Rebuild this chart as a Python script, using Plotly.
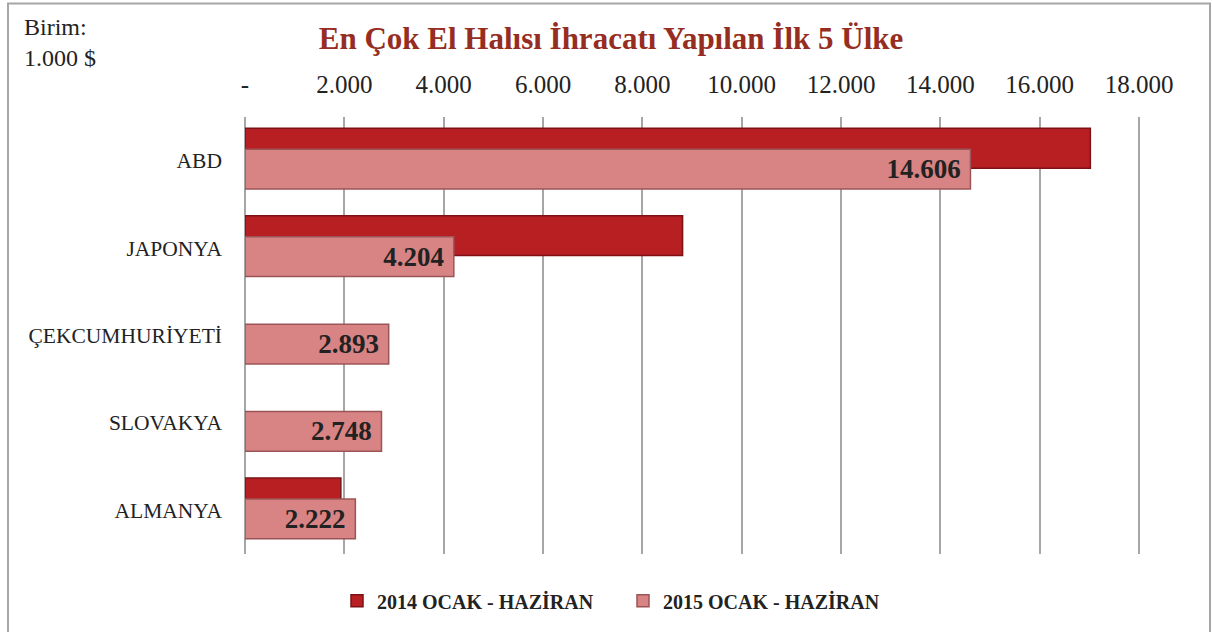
import plotly.graph_objects as go

countries = ["ABD", "JAPONYA", "ÇEKCUMHURİYETİ", "SLOVAKYA", "ALMANYA"]
values_2014 = [17020, 8810, None, None, 1930]
values_2015 = [14606, 4204, 2893, 2748, 2222]
series_names = ["2014 OCAK - HAZİRAN", "2015 OCAK - HAZİRAN"]
tick_vals = [0, 2000, 4000, 6000, 8000, 10000, 12000, 14000, 16000, 18000]
tick_text = ["-", "2.000", "4.000", "6.000", "8.000", "10.000", "12.000", "14.000", "16.000", "18.000"]

SERIF = "Liberation Serif"
W, H = 1212, 632
L, R, T, B = 245, 68, 117, 76
XMAX = 18100

fig = go.Figure()
fig.add_trace(go.Bar(
    y=countries, x=values_2014, orientation="h", name=series_names[0],
    offset=-0.37, width=0.455,
    marker=dict(color="#b81f22", line=dict(color="#7c1215", width=1.5)),
))
fig.add_trace(go.Bar(
    y=countries, x=values_2015, orientation="h", name=series_names[1],
    offset=-0.13, width=0.455,
    marker=dict(color="#d88384", line=dict(color="#9c5556", width=1.5)),
    texttemplate="%{x:,.0f} ", textposition="inside", insidetextanchor="end",
    textfont=dict(family=SERIF, size=27, color="#222222", weight="bold"),
    cliponaxis=False,
))

pw = W - L - R
ph = H - T - B
def px(x):
    return (x - L) / pw
def py(y):
    return (H - B - y) / ph

fig.update_layout(
    width=W, height=H,
    margin=dict(l=L, r=R, t=T, b=B),
    paper_bgcolor="white", plot_bgcolor="white",
    barmode="overlay",
    separators=",.",
    font=dict(family=SERIF, color="#222222"),
    title=dict(
        text="<b>En Çok El Halısı İhracatı Yapılan İlk 5 Ülke</b>",
        x=611 / W, xanchor="center", y=1 - 38 / H, yanchor="middle",
        font=dict(family=SERIF, size=31, color="#962d22"),
    ),
    xaxis=dict(
        side="top", range=[0, XMAX], tickvals=tick_vals, ticktext=tick_text,
        showgrid=True, gridcolor="#a6a6a6", gridwidth=1.5,
        zeroline=True, zerolinecolor="#a6a6a6", zerolinewidth=1.5,
        showline=False, ticks="", ticklabelstandoff=18,
        tickfont=dict(family=SERIF, size=25, color="#222222"),
    ),
    yaxis=dict(
        type="category", categoryorder="array", categoryarray=countries,
        range=[4.5, -0.5], showgrid=False, zeroline=False, showline=False,
        ticks="", ticklabelstandoff=22,
        tickfont=dict(family=SERIF, size=21.5, color="#222222"),
    ),
    legend=dict(
        orientation="h", x=px(623), xanchor="center",
        y=py(603), yanchor="middle",
        font=dict(family=SERIF, size=20, color="#222222", weight="bold"),
        itemwidth=30, traceorder="normal",
        entrywidth=241, entrywidthmode="pixels",
    ),
    showlegend=True,
    annotations=[
        dict(text="Birim:<br>1.000 $", xref="paper", yref="paper",
             x=px(22), y=py(12), xanchor="left", yanchor="top",
             showarrow=False, align="left",
             font=dict(family=SERIF, size=24, color="#222222")),
    ],
    shapes=[
        dict(type="rect", xref="paper", yref="paper",
             x0=px(8), x1=px(1210), y0=py(640), y1=py(3),
             line=dict(color="#a6a6a6", width=2), fillcolor="rgba(0,0,0,0)",
             layer="below"),
    ],
)

fig.write_html("out.html", config={"displayModeBar": False},
               post_script="document.body.style.margin='0';")
